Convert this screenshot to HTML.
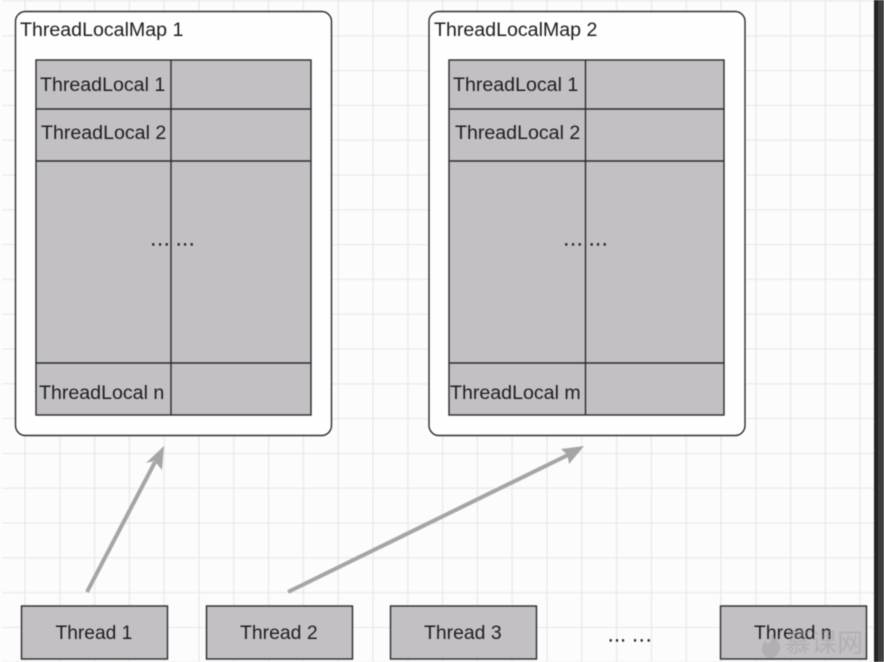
<!DOCTYPE html>
<html><head><meta charset="utf-8"><style>
html,body{margin:0;padding:0;background:#fdfcfd}
svg{display:block;filter:blur(.4px)}
text{font-family:"Liberation Sans",sans-serif;font-size:19.6px;fill:#1c1c22}
</style></head><body>
<svg width="884" height="662" viewBox="0 0 884 662" xmlns="http://www.w3.org/2000/svg">
<defs>
<pattern id="g" x="7.6" y="-16.400" width="34.8" height="34.8" patternUnits="userSpaceOnUse">
<path d="M17.4 0V34.8M0 17.4H34.8" stroke="#ebe8eb" stroke-width="1.3" fill="none"/>
</pattern>
</defs>
<rect width="884" height="662" fill="#fdfcfd"/>
<rect x="0" y="0" width="874" height="662" fill="url(#g)"/>
<rect x="0" y="0" width="2" height="662" fill="#fdfcfd"/>
<rect x="874" y="0" width="4" height="662" fill="#222"/>
<rect x="878" y="0" width="6" height="662" fill="#3f3f3f"/>

<g stroke="#2a2a2e" stroke-width="1.4">
<rect x="15.5" y="11.5" width="316" height="424" rx="10" fill="#fefefe"/>
<rect x="429" y="11.5" width="316" height="424" rx="10" fill="#fefefe"/>
<g fill="#c3c0c4">
<rect x="36" y="60" width="275" height="355"/>
<rect x="449" y="60" width="275" height="355"/>
<rect x="21.500" y="606" width="146" height="53"/>
<rect x="206.500" y="606" width="146" height="53"/>
<rect x="390.500" y="606" width="146" height="53"/>
<rect x="720.500" y="606" width="146" height="53"/>
</g>
<path fill="none" d="M171 60V415M36 109H311M36 161H311M36 363H311M585.500 60V415M449 109H724M449 161H724M449 363H724"/>
</g>

<g stroke="#a6a4a6" stroke-width="4" fill="none">
<path d="M87 592L155 462"/>
<path d="M288 592L568 455"/>
</g>
<g fill="#a6a4a6">
<path d="M164 446L162 470L154.500 461L146 463Z"/>
<path d="M584 446L569 464L567.500 455L561 449Z"/>
</g>

<text x="20" y="36">ThreadLocalMap 1</text>
<text x="434" y="36">ThreadLocalMap 2</text>
<text x="40" y="91">ThreadLocal 1</text>
<text x="41" y="139">ThreadLocal 2</text>
<text x="39" y="399">ThreadLocal n</text>
<text x="453" y="91">ThreadLocal 1</text>
<text x="455" y="139">ThreadLocal 2</text>
<text x="450" y="399">ThreadLocal m</text>
<text x="150.500 157.200 163.900 175.900 182.200 188.900" y="245.500" style="font-size:20px;stroke:#1c1c22;stroke-width:.25">......</text>
<text x="563.500 570.200 576.900 588.900 595.200 601.900" y="245.500" style="font-size:20px;stroke:#1c1c22;stroke-width:.25">......</text>
<text x="55.500" y="639" style="font-size:19.2px">Thread 1</text>
<text x="240" y="639" style="font-size:19.4px">Thread 2</text>
<text x="424" y="639" style="font-size:19.4px">Thread 3</text>
<text x="607.900 614.200 620.200 632.200 638.900 645.900" y="641.500" style="font-size:20px;stroke:#1c1c22;stroke-width:.25">......</text>
<text x="754" y="639" style="font-size:19.4px">Thread n</text>
<text x="785" y="652" style="font-family:'Liberation Sans','Noto Sans CJK SC',sans-serif;font-size:26px;fill:#9d9b9d;opacity:.45">慕课网</text>
<path d="M771 634c6 5 10 10 9 15-1 5-5 9-9 9s-9-3-9-9c0-4 2-7 4-9 0 3 1 4 3 4 2-3 3-6 2-10z" fill="#9d9b9d" opacity=".45"/>
</svg>
</body></html>
